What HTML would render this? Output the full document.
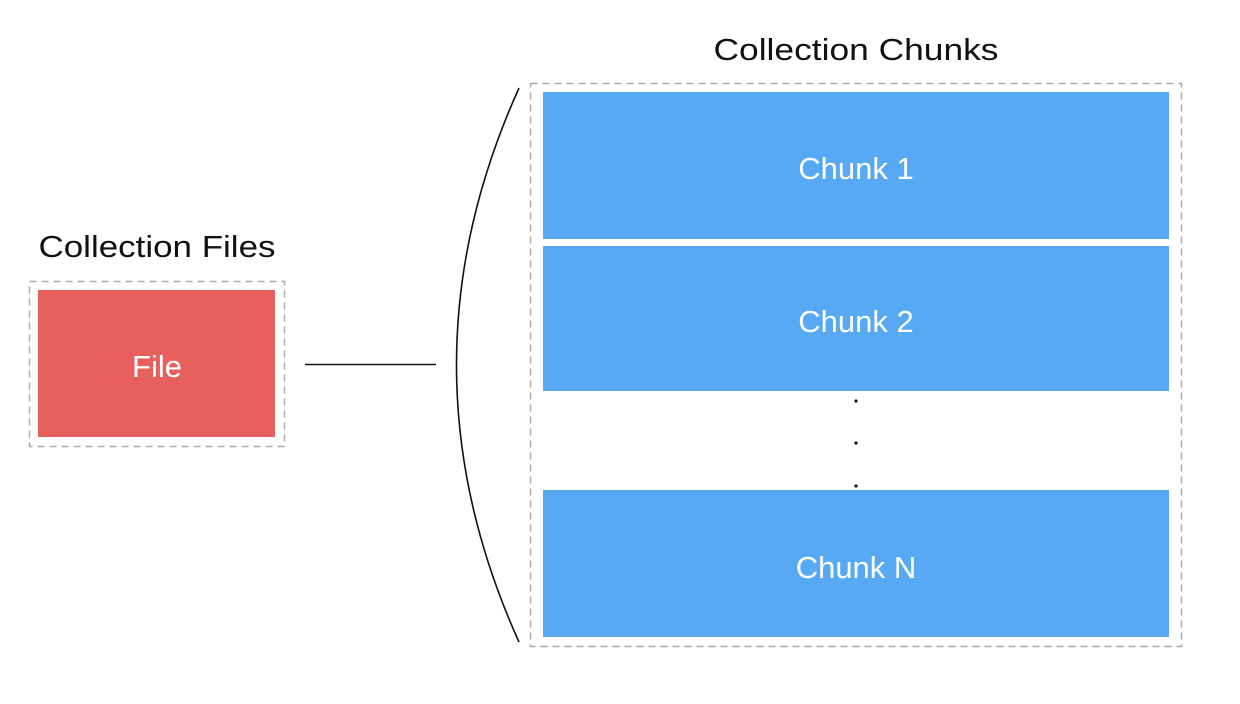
<!DOCTYPE html>
<html><head><meta charset="utf-8"><style>
html,body{margin:0;padding:0;background:#fff;}
svg{display:block;}
text{font-family:"Liberation Sans",sans-serif;}
</style></head><body>
<svg width="1240" height="704" viewBox="0 0 1240 704" xmlns="http://www.w3.org/2000/svg">
<rect width="1240" height="704" fill="#fff"/>
<text x="157" y="257" font-size="31" text-anchor="middle" fill="#111" textLength="237" lengthAdjust="spacingAndGlyphs">Collection Files</text>
<rect x="29.5" y="281.5" width="255" height="165" fill="none" stroke="#aaa" stroke-width="1.5" stroke-dasharray="7,5"/>
<rect x="38" y="290" width="237" height="147" fill="#e8605d"/>
<text x="157" y="377" font-size="31" text-anchor="middle" fill="#fff">File</text>
<line x1="305" y1="364.5" x2="436" y2="364.5" stroke="#111" stroke-width="1.5"/>
<path d="M519,88 Q394,365 519,642" fill="none" stroke="#111" stroke-width="1.6"/>
<text x="856" y="60" font-size="31" text-anchor="middle" fill="#111" textLength="285" lengthAdjust="spacingAndGlyphs">Collection Chunks</text>
<rect x="530.5" y="83.5" width="651" height="563" fill="none" stroke="#aaa" stroke-width="1.5" stroke-dasharray="7,5"/>
<rect x="543" y="92" width="626" height="147" fill="#58a9f4"/>
<rect x="543" y="246" width="626" height="145" fill="#58a9f4"/>
<rect x="543" y="490" width="626" height="147" fill="#58a9f4"/>
<text x="856" y="179" font-size="31" text-anchor="middle" fill="#fff">Chunk 1</text>
<text x="856" y="332" font-size="31" text-anchor="middle" fill="#fff">Chunk 2</text>
<text x="856" y="578" font-size="31" text-anchor="middle" fill="#fff">Chunk N</text>
<circle cx="856" cy="401" r="1.6" fill="#111"/>
<circle cx="856" cy="443" r="1.6" fill="#111"/>
<circle cx="856" cy="486" r="1.6" fill="#111"/>
</svg>
</body></html>
